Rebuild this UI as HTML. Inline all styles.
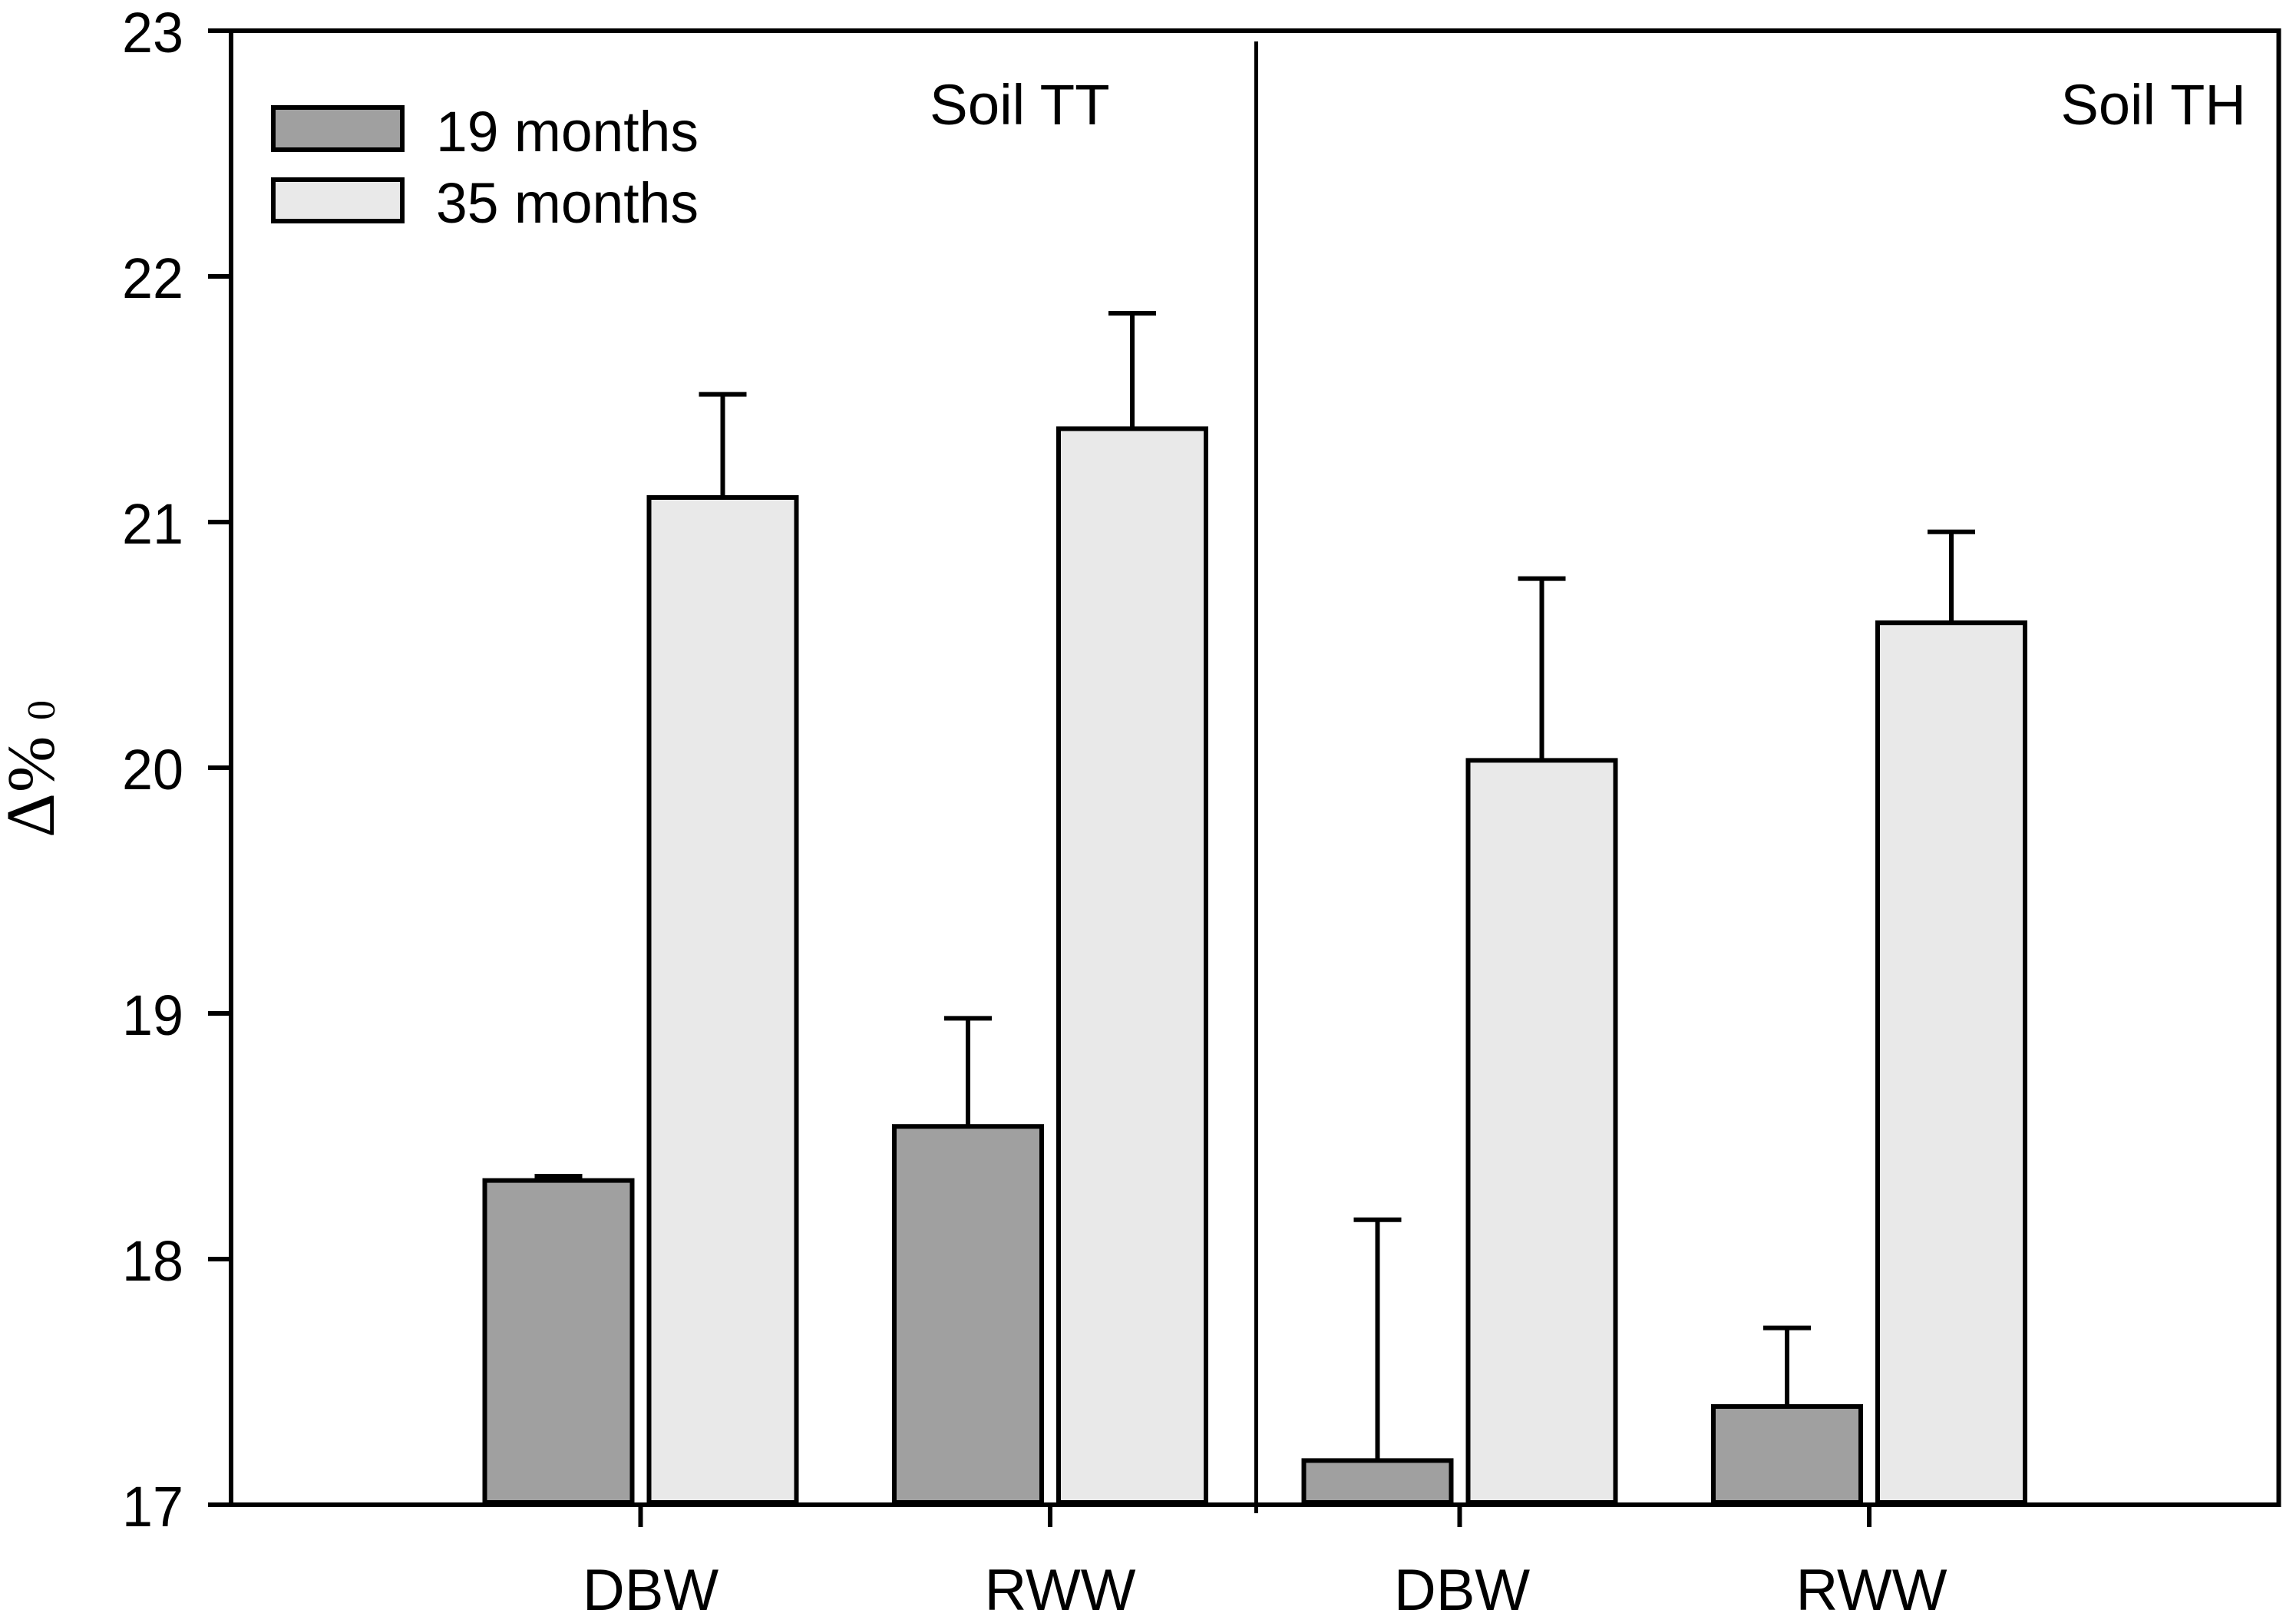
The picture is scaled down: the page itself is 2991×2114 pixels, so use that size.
<!DOCTYPE html>
<html lang="en">
<head>
<meta charset="utf-8">
<title>Δ‰ bar chart</title>
<style>
  html, body { margin: 0; padding: 0; background: #fff; }
  svg { display: block; }
  text { font-family: "Liberation Sans", Arial, sans-serif; fill: #000; }
  .serif { font-family: "Liberation Serif", "Times New Roman", serif; }
</style>
</head>
<body>
<svg id="chart" xmlns="http://www.w3.org/2000/svg" width="2991" height="2114" viewBox="0 0 2991 2114">
  <rect x="0" y="0" width="2991" height="2114" fill="#fff"/>
  <g id="marks"></g>
  <g id="axes"></g>
  <g>
    <text class="serif" transform="translate(70,1091) rotate(-90)" font-size="90">Δ</text>
    <text class="serif" transform="translate(70,1032) rotate(-90)" font-size="88">%</text>
    <text class="serif" transform="translate(71,938) rotate(-90)" font-size="52">0</text>
  </g>
  <g>
    <g>
      <rect x="356" y="140" width="168" height="55" fill="#a0a0a0" stroke="#000" stroke-width="6"/>
      <text x="568" y="197" font-size="74" textLength="342" lengthAdjust="spacingAndGlyphs">19 months</text>
    </g>
    <g>
      <rect x="356" y="234" width="168" height="54" fill="#e9e9e9" stroke="#000" stroke-width="6"/>
      <text x="568" y="290" font-size="74" textLength="342" lengthAdjust="spacingAndGlyphs">35 months</text>
    </g>
  </g>
  <text x="1211" y="162" font-size="74.5">Soil TT</text>
  <text x="2684.5" y="162" font-size="74">Soil TH</text>
</svg>
<script>
// Chart data
const categories = ["DBW", "RWW", "DBW", "RWW"];
const values19 = [18.32, 18.54, 17.18, 17.40];
const upper19 = [18.3375, 18.98, 18.16, 17.72];
const values35 = [21.10, 21.38, 20.03, 20.59];
const upper35 = [21.52, 21.85, 20.77, 20.96];
const yTicks = [17, 18, 19, 20, 21, 22, 23];

// Axis functions
function yScale(v) { return 1960 - (v - 17) * 320; }
function xScale(u) { return 301 + u * 533.5; }

const NS = "http://www.w3.org/2000/svg";
const marks = document.getElementById("marks");
const axes = document.getElementById("axes");

function make(tag, attrs, parent) {
  const node = document.createElementNS(NS, tag);
  for (const key in attrs) node.setAttribute(key, attrs[key]);
  parent.appendChild(node);
  return node;
}

const BAR_W = 192;
const BAR_OFFSET = 107;
const CAP_W = 62;

function drawBar(center, value, upper, fill, kind, cat) {
  const top = yScale(value);
  const errTop = yScale(upper);
  const stem = make("line", { x1: center, x2: center, y1: errTop, y2: top, stroke: "#000", "stroke-width": 6 }, marks);
  
  
  const cap = make("line", { x1: center - CAP_W / 2, x2: center + CAP_W / 2, y1: errTop, y2: errTop, stroke: "#000", "stroke-width": 6 }, marks);
  
  
  const bar = make("rect", { x: center - BAR_W / 2, y: top, width: BAR_W, height: yScale(17) - 3 - top, fill: fill, stroke: "#000", "stroke-width": 6 }, marks);
  
  
}

categories.forEach(function (cat, i) {
  const c = xScale(i + 1);
  const id = cat.toLowerCase() + '-' + (i < 2 ? 'tt' : 'th');
  drawBar(c - BAR_OFFSET, values19[i], upper19[i], "#a0a0a0", "19-months", id);
  drawBar(c + BAR_OFFSET, values35[i], upper35[i], "#e9e9e9", "35-months", id);

  const tick = make("line", { x1: c, x2: c, y1: 1960, y2: 1989, stroke: "#000", "stroke-width": 6 }, axes);
  
  

  const label = make("text", { x: c + (i < 2 ? 13 : 3), y: 2097, "font-size": 76, "text-anchor": "middle" }, axes);
  label.textContent = cat;
  
  
});

// Plot frame
const frame = make("rect", { x: xScale(0), y: yScale(23), width: xScale(5) - xScale(0), height: yScale(17) - yScale(23), fill: "none", stroke: "#000", "stroke-width": 6 }, axes);



// Panel divider
const divider = make("line", { x1: xScale(2.5) + 1.75, x2: xScale(2.5) + 1.75, y1: 54, y2: 1971, stroke: "#000", "stroke-width": 5 }, axes);



// Y ticks and labels
yTicks.forEach(function (t) {
  const y = yScale(t);
  const tick = make("line", { x1: 271, x2: xScale(0), y1: y, y2: y, stroke: "#000", "stroke-width": 6 }, axes);
  
  
  const label = make("text", { x: 239, y: y + 28, "font-size": 74, "text-anchor": "end", textLength: 80, lengthAdjust: "spacingAndGlyphs" }, axes);
  label.textContent = t;
  
  
});
</script>
</body>
</html>
